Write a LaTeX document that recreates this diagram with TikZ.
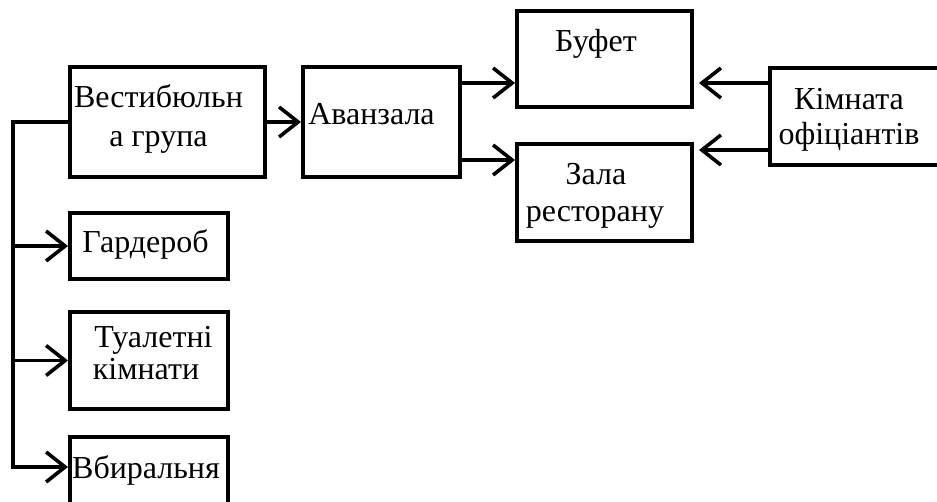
\documentclass[tikz,border=0pt]{standalone}
\usepackage{fontspec}
\setmainfont{Liberation Serif}
\usetikzlibrary{arrows.meta,calc}
\begin{document}
\begin{tikzpicture}[x=1pt,y=-1pt,
  box/.style={draw,line width=4pt,minimum width=#1,inner sep=0pt},
  lbl/.style={anchor=base,inner sep=0pt,font=\fontsize{32}{38}\selectfont},
  conn/.style={line width=3.6pt,line join=miter},
  arr/.style={conn,-{Straight Barb[length=19pt,width=30pt,line width=3.6pt]}}]
\useasboundingbox (0,0) rectangle (937,502);
\clip (0,0) rectangle (937,502);
% boxes
\node[box=195pt,minimum height=110pt] (vest) at (167.5,122) {};
\node[box=157pt,minimum height=110pt] (avan) at (381.5,122) {};
\node[box=175pt,minimum height=96pt] (bufet) at (604.5,59) {};
\node[box=175pt,minimum height=97pt] (zala) at (604.5,192.5) {};
\node[box=200pt,minimum height=97pt] (kimn) at (870,116.5) {};
\node[box=158pt,minimum height=66pt] (garder) at (149,246) {};
\node[box=158pt,minimum height=97pt] (tual) at (149,360.5) {};
\node[box=158pt,minimum height=90pt] (vbyr) at (149,482) {};
% texts
\node[lbl] (t1) at (158.5,108) {Вестибюльн};
\node[lbl] (t2) at (158.5,147) {а група};
\node[lbl] (t3) at (371.5,125) {Аванзала};
\node[lbl] (t4) at (596,52) {Буфет};
\node[lbl] (t5) at (596,185) {Зала};
\node[lbl] (t6) at (595,222) {ресторану};
\node[lbl] (t7) at (849,110) {Кімната};
\node[lbl] (t8) at (849,145) {офіціантів};
\node[lbl] (t9) at (145.5,253) {Гардероб};
\node[lbl] (t10) at (153.5,348) {Туалетні};
\node[lbl] (t11) at (146,380) {кімнати};
\node[lbl] (t12) at (146,478) {Вбиральня};
% connectors
\draw[arr] (vest.east) -- (avan.west);
\draw[arr] ([yshift=39pt]avan.east) coordinate (a1) -- (a1 -| bufet.west);
\draw[arr] ([yshift=-38pt]avan.east) coordinate (a2) -- (a2 -| zala.west);
\draw[arr] ([yshift=33.5pt]kimn.west) coordinate (k1) -- ([xshift=5pt]k1 -| bufet.east);
\draw[arr] ([yshift=-33.5pt]kimn.west) coordinate (k2) -- ([xshift=5pt]k2 -| zala.east);
\coordinate (tb) at (13,467);
\draw[conn] (vest.west) -| (tb);
\draw[arr] (tb |- garder.west) -- (garder.west);
\draw[arr] (tb |- tual.west) -- (tual.west);
\draw[arr] ([xshift=-1.8pt]tb) -- (tb -| vbyr.west);
\end{tikzpicture}
\end{document}
